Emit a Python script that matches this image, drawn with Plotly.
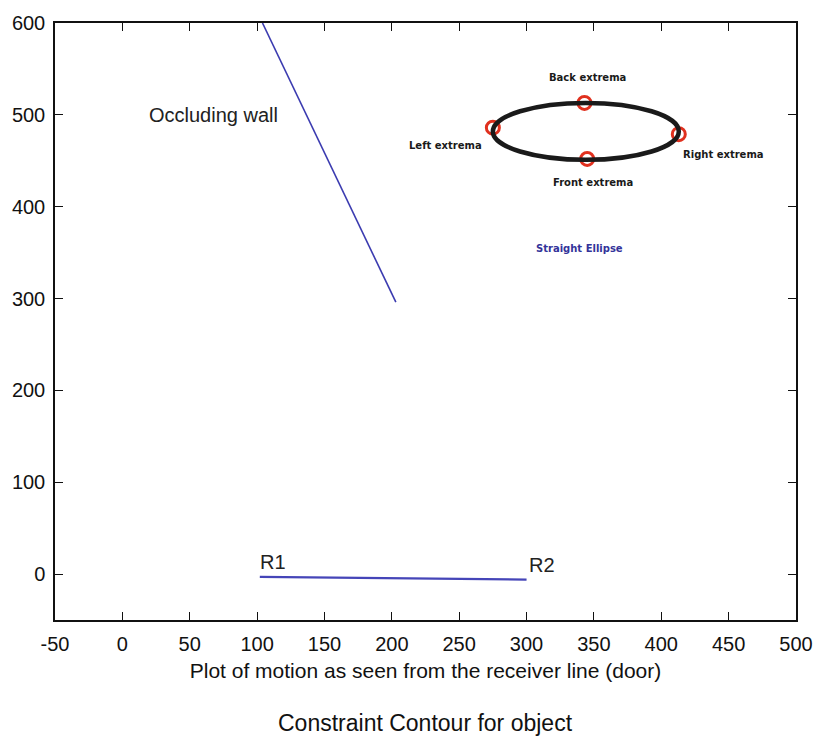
import plotly.graph_objects as go

# Data
wall_x = [104, 203]
wall_y = [600, 296]
recv_x = [102, 300]
recv_y = [-3, -6]
ellipse_center = [344, 482]
ellipse_axes = [69, 31]
extrema_names = ["Back extrema", "Front extrema", "Left extrema", "Right extrema"]
extrema_x = [343, 345, 275, 413]
extrema_y = [513, 452, 486, 479]
extrema_label_x = [345, 349, 240, 446]
extrema_label_y = [541, 426, 467, 457]
x_ticks = [-50, 0, 50, 100, 150, 200, 250, 300, 350, 400, 450, 500]
x_tick_text = ["-50", "0", "50", "100", "150", "200", "250", "300", "350", "400", "450", "500"]
y_ticks = [0, 100, 200, 300, 400, 500, 600]

FONT = "Liberation Sans, Arial"
fig = go.Figure()

fig.add_trace(go.Scatter(x=wall_x, y=wall_y, mode="lines",
                         line=dict(color="#3b3bb0", width=1.6), showlegend=False))
fig.add_trace(go.Scatter(x=recv_x, y=recv_y, mode="lines",
                         line=dict(color="#4545b8", width=2.2), showlegend=False))

cx, cy = ellipse_center
a, b = ellipse_axes
fig.add_shape(type="circle", xref="x", yref="y",
              x0=cx - a, x1=cx + a, y0=cy - b, y1=cy + b,
              line=dict(color="#1a1a1a", width=4.5))

fig.add_trace(go.Scatter(x=extrema_x, y=extrema_y, mode="markers",
                         marker=dict(symbol="circle-open", size=13,
                                     line=dict(color="#e0301e", width=3), color="#e0301e"),
                         showlegend=False))

for name, lx, ly in zip(extrema_names, extrema_label_x, extrema_label_y):
    fig.add_annotation(x=lx, y=ly, text="<b>" + name + "</b>", showarrow=False,
                       font=dict(family="DejaVu Sans, Liberation Sans", size=10, color="#1a1a1a"))

fig.add_annotation(x=339, y=355, text="<b>Straight Ellipse</b>", showarrow=False,
                   font=dict(family="DejaVu Sans, Liberation Sans", size=10, color="#33339a"))
fig.add_annotation(x=68, y=500, text="Occluding wall", showarrow=False,
                   font=dict(family=FONT, size=20, color="#222"))
fig.add_annotation(x=101, y=13, text="R1", showarrow=False, xanchor="left",
                   font=dict(family=FONT, size=20, color="#222"))
fig.add_annotation(x=300, y=10, text="R2", showarrow=False, xanchor="left",
                   font=dict(family=FONT, size=20, color="#222"))

fig.add_annotation(xref="paper", yref="paper", x=0.5, y=-0.172, text="Constraint Contour for object",
                   showarrow=False, yanchor="middle",
                   font=dict(family=FONT, size=23, color="#111"))

axis_common = dict(showgrid=False, zeroline=False, showline=True, linecolor="#111",
                   linewidth=1.5, mirror="ticks", ticks="inside", ticklen=8,
                   tickcolor="#111", tickwidth=1.3,
                   tickfont=dict(family=FONT, size=20, color="#111"))

fig.update_xaxes(range=[-50, 500], tickvals=x_ticks, ticktext=x_tick_text, **axis_common,
                 ticklabelstandoff=5,
                 title=dict(text="Plot of motion as seen from the receiver line (door)",
                            font=dict(family=FONT, size=21, color="#111"),
                            standoff=10))
fig.update_yaxes(range=[-50, 600], tickvals=y_ticks, **axis_common, ticklabelstandoff=4)

fig.update_layout(width=825, height=747, margin=dict(l=55, r=25, t=22, b=127),
                  plot_bgcolor="white", paper_bgcolor="white")

fig.write_html("out.html")
